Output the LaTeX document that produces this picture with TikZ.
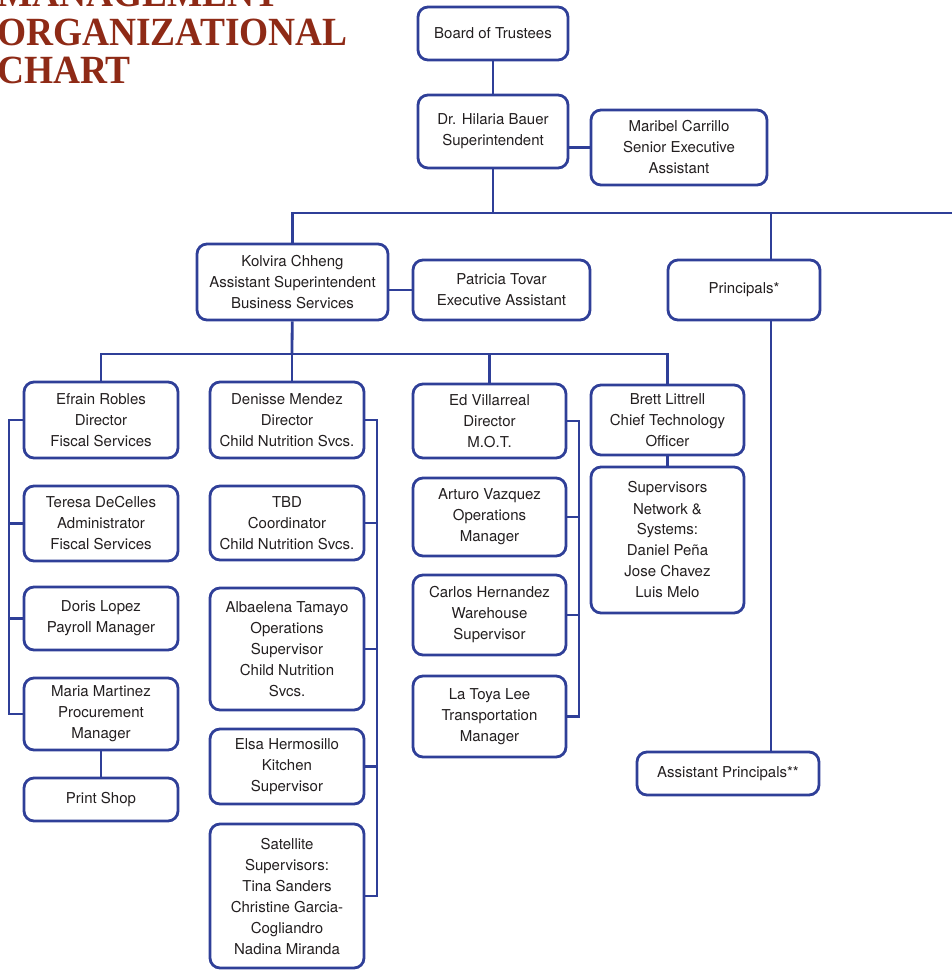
\documentclass[tikz,border=0pt]{standalone}
\usepackage{fontspec}
\setmainfont{TeX Gyre Heros}
\newfontfamily\titlefont{Liberation Serif}
\usetikzlibrary{backgrounds}
\definecolor{orgblue}{HTML}{2F3F98}
\definecolor{orgred}{HTML}{8E2A16}
\definecolor{orgtext}{HTML}{231F20}
\tikzset{
  box/.style={draw=orgblue, line width=2.8pt, rounded corners=10pt, fill=white,
    align=center, text=orgtext, inner sep=0pt, font=\fontsize{15}{21}\selectfont},
  link/.style={draw=orgblue, line width=2.8pt},
  titleline/.style={anchor=base west, inner sep=0pt, text=orgred,
    font=\titlefont\bfseries\fontsize{40}{40}\selectfont, xscale=0.935, transform shape}
}
\begin{document}
\begin{tikzpicture}[x=1pt, y=-1pt]
  \useasboundingbox (0,0) rectangle (952,970);

  \node[titleline] (title1) at (-3,6) {MANAGEMENT};
  \node[titleline] (title2) at (-3,45) {ORGANIZATIONAL};
  \node[titleline] (title3) at (-3,83) {CHART};

  % top of the chart
  \node[box, minimum width=150pt, minimum height=53pt] (board) at (493,33.5) {Board of Trustees};
  \node[box, minimum width=150pt, minimum height=73pt] (bauer) at (493,131.5) {Dr. Hilaria Bauer\\Superintendent};
  \node[box, minimum width=176pt, minimum height=75pt] (maribel) at (679,147.5) {Maribel Carrillo\\Senior Executive\\Assistant};
  \node[box, minimum width=191pt, minimum height=76pt] (kolvira) at (292.5,282) {Kolvira Chheng\\Assistant Superintendent\\Business Services};
  \node[box, minimum width=177pt, minimum height=60pt] (tovar) at (501.5,290) {Patricia Tovar\\Executive Assistant};
  \node[box, minimum width=152pt, minimum height=60pt] (principals) at (744,290) {Principals*};
  \node[box, minimum width=182pt, minimum height=43pt] (asstprin) at (728,773.5) {Assistant Principals**};

  % fiscal column
  \node[box, minimum width=154pt, minimum height=76pt] (efrain) at (101,420) {Efrain Robles\\Director\\Fiscal Services};
  \node[box, minimum width=154pt, minimum height=75pt] (teresa) at (101,523.5) {Teresa DeCelles\\Administrator\\Fiscal Services};
  \node[box, minimum width=154pt, minimum height=63pt] (doris) at (101,618.5) {Doris Lopez\\Payroll Manager};
  \node[box, minimum width=154pt, minimum height=72pt] (martinez) at (101,714) {Maria Martinez\\Procurement\\Manager};
  \node[box, minimum width=154pt, minimum height=43pt] (printshop) at (101,799.5) {Print Shop};

  % child nutrition column
  \node[box, minimum width=154pt, minimum height=76pt] (denisse) at (287,420) {Denisse Mendez\\Director\\Child Nutrition Svcs.};
  \node[box, minimum width=154pt, minimum height=74pt] (tbd) at (287,523) {TBD\\Coordinator\\Child Nutrition Svcs.};
  \node[box, minimum width=154pt, minimum height=122pt] (albaelena) at (287,649) {Albaelena Tamayo\\Operations\\Supervisor\\Child Nutrition\\Svcs.};
  \node[box, minimum width=154pt, minimum height=75pt] (elsa) at (287,766.5) {Elsa Hermosillo\\Kitchen\\Supervisor};
  \node[box, minimum width=154pt, minimum height=144pt] (satellite) at (287,896) {Satellite\\Supervisors:\\Tina Sanders\\Christine Garcia-\\Cogliandro\\Nadina Miranda};

  % M.O.T. column
  \node[box, minimum width=153pt, minimum height=74pt] (villarreal) at (489.5,421) {Ed Villarreal\\Director\\M.O.T.};
  \node[box, minimum width=153pt, minimum height=78pt] (arturo) at (489.5,517) {Arturo Vazquez\\Operations\\Manager};
  \node[box, minimum width=153pt, minimum height=80pt] (carlos) at (489.5,615) {Carlos Hernandez\\Warehouse\\Supervisor};
  \node[box, minimum width=153pt, minimum height=81pt] (latoya) at (489.5,716.5) {La Toya Lee\\Transportation\\Manager};

  % technology column
  \node[box, minimum width=153pt, minimum height=70pt] (brett) at (667.5,420) {Brett Littrell\\Chief Technology\\Officer};
  \node[box, minimum width=153pt, minimum height=146pt] (supervisors) at (667.5,540) {Supervisors\\Network \&\\Systems:\\Daniel Peña\\Jose Chavez\\Luis Melo};

  \coordinate (split) at (493,213);
  \coordinate (rightend) at (952,213);
  \coordinate (princline) at (771,213);
  \coordinate (busline) at (292,354);

  \begin{scope}[on background layer]
  \draw[link] (board) -- (bauer);
  \draw[link] (maribel) -- (maribel -| bauer);
  \draw[link] (bauer) -- (split);
  \draw[link] (kolvira) |- (rightend);
  \draw[link] (princline) -- (asstprin.north -| princline);
  \draw[link] (tovar) -- (tovar -| kolvira);
  \draw[link] (kolvira) -- (busline);
  \draw[link] (efrain) |- (busline) -| (brett);
  \draw[link] (busline) -- (busline |- denisse.north);
  \draw[link] (villarreal) -- (villarreal |- busline);
  \draw[link] (brett) -- (supervisors);
  \draw[link] (martinez) -- (printshop);

  % brackets
  \draw[link] (efrain) -- ++(-92,0) |- (martinez);
  \draw[link] (teresa) -- ++(-92,0);
  \draw[link] (doris) -- ++(-92,0);
  \draw[link] (denisse) -- ++(90,0) |- (satellite);
  \draw[link] (tbd) -- ++(90,0);
  \draw[link] (albaelena) -- ++(90,0);
  \draw[link] (elsa) -- ++(90,0);
  \draw[link] (villarreal) -- ++(89.5,0) |- (latoya);
  \draw[link] (arturo) -- ++(89.5,0);
  \draw[link] (carlos) -- ++(89.5,0);
  \end{scope}
\end{tikzpicture}
\end{document}
